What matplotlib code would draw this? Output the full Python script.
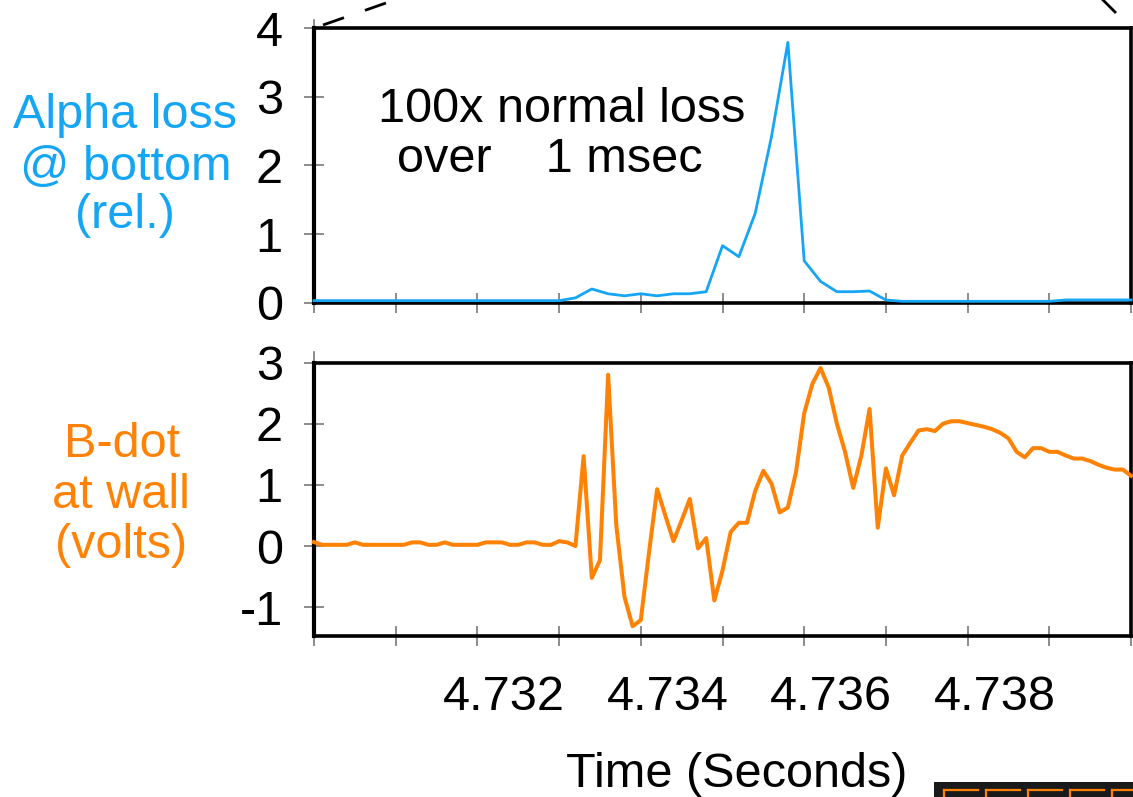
import numpy as np
import matplotlib
matplotlib.use("Agg")
import matplotlib.pyplot as plt
from matplotlib.patches import Rectangle
from matplotlib.lines import Line2D

plt.rcParams['font.family'] = ['Liberation Sans', 'DejaVu Sans']

# ---------------- data ----------------
t_start = 4.72967          # first sample time (s)
dt_bdot = 0.0001           # B-dot sample spacing (s)
dt_alpha = 0.0002          # alpha-loss sample spacing (s)

alpha_loss = [0.03] * 15 + [
    0.03, 0.07, 0.20, 0.13, 0.10, 0.13, 0.10, 0.13, 0.13, 0.16,
    0.83, 0.67, 1.30, 2.42, 3.79, 0.61, 0.31, 0.16, 0.16, 0.17, 0.04,
] + [0.02] * 10 + [0.04] * 5

b_dot = [
    0.065, 0.02, 0.02, 0.02, 0.02, 0.06, 0.02, 0.02, 0.02, 0.02,
    0.02, 0.02, 0.06, 0.06, 0.02, 0.02, 0.06, 0.02, 0.02, 0.02,
    0.02, 0.06, 0.06, 0.06, 0.02, 0.02, 0.06, 0.06, 0.02, 0.02,
    0.08, 0.06, 0.00, 1.47, -0.52, -0.23, 2.80, 0.34, -0.83, -1.31,
    -1.21, -0.11, 0.93, 0.50, 0.08, 0.42, 0.77, -0.04, 0.13, -0.89,
    -0.40, 0.23, 0.38, 0.38, 0.90, 1.23, 1.02, 0.55, 0.63, 1.21,
    2.17, 2.65, 2.91, 2.59, 2.00, 1.54, 0.95, 1.48, 2.24, 0.30,
    1.27, 0.83, 1.48, 1.69, 1.89, 1.91, 1.88, 2.00, 2.04, 2.04,
    2.01, 1.98, 1.95, 1.91, 1.85, 1.76, 1.54, 1.45, 1.60, 1.60,
    1.54, 1.54, 1.48, 1.43, 1.43, 1.39, 1.33, 1.28, 1.25, 1.25,
    1.15,
]

t_alpha = t_start + dt_alpha * np.arange(len(alpha_loss))
t_bdot = t_start + dt_bdot * np.arange(len(b_dot))

x_labels = ["4.732", "4.734", "4.736", "4.738"]
x_label_pos = [4.732, 4.734, 4.736, 4.738]
top_yticks = [0, 1, 2, 3, 4]
bot_yticks = [-1, 0, 1, 2, 3]

# ---------------- style ----------------
W, H = 1133, 797
BLUE = '#14A5F5'
ORANGE = '#FF8204'
TICKC = '#6e6e6e'
FS = 35

fig = plt.figure(figsize=(W / 100, H / 100), dpi=100)
fig.patch.set_facecolor('white')

def fx(px):
    return px / W

def fy(py):
    return 1 - py / H

ax1 = fig.add_axes([fx(314), fy(302.7), fx(1131) - fx(314), fy(28) - fy(302.7)])
ax2 = fig.add_axes([fx(314), fy(636), fx(1131) - fx(314), fy(362.5) - fy(636)])

xmin, xmax = t_start, t_start + 0.010
tick_grid = xmin + 0.001 * np.arange(11)

for ax in (ax1, ax2):
    ax.set_xlim(xmin, xmax)
    for s in ax.spines.values():
        s.set_linewidth(2.6)
        s.set_color('black')
    ax.spines['left'].set_linewidth(3.0)
    ax.set_xticks(tick_grid)
    ax.set_xticklabels([])
    ax.tick_params(axis='both', which='major', direction='inout', length=15,
                   width=1.1, color=TICKC, labelsize=FS, pad=15)
    ax.tick_params(axis='y', labelcolor='black')

ax1.plot(t_alpha, alpha_loss, color=BLUE, lw=2.0, clip_on=False, zorder=3)
ax1.set_ylim(0, 4)
ax1.set_yticks(top_yticks)
ax1.set_yticklabels([str(v) for v in top_yticks])

ax2.plot(t_bdot, b_dot, color=ORANGE, lw=2.9, clip_on=False, zorder=3)
ax2.set_ylim(-1.47, 3)
ax2.set_yticks(bot_yticks)
ax2.set_yticklabels([str(v) for v in bot_yticks])
ax2.set_xticks(x_label_pos, minor=True)
ax2.set_xticklabels(x_labels, minor=True)
ax2.tick_params(axis='x', which='minor', length=0, labelsize=FS, pad=28)

# small spine stubs above top-left corners
ax1.add_line(Line2D([fx(314), fx(314)], [fy(28), fy(20)], transform=fig.transFigure,
                    color=TICKC, lw=1.1, clip_on=False))
ax2.add_line(Line2D([fx(314), fx(314)], [fy(362.5), fy(352)], transform=fig.transFigure,
                    color=TICKC, lw=1.1, clip_on=False))

# ---------------- texts ----------------
def ftext(x, y, s, color='black', ha='center'):
    fig.text(fx(x), fy(y), s, color=color, fontsize=FS, ha=ha, va='baseline')

ftext(125, 128, "Alpha loss", BLUE)
ftext(126, 180, "@ bottom", BLUE)
ftext(125, 228, "(rel.)", BLUE)

ftext(122, 457, "B-dot", ORANGE)
ftext(121, 508, "at wall", ORANGE)
ftext(121, 558, "(volts)", ORANGE)

ftext(562, 122.5, "100x normal loss")
ftext(550, 171.5, "over    1 msec")

ftext(737, 787, "Time (Seconds)")

# callout lines at the top
fig.add_artist(Line2D([fx(323), fx(396)], [fy(25), fy(-0.5)], color='black', lw=2.0,
                      linestyle=(0, (8, 8)), transform=fig.transFigure))
fig.add_artist(Line2D([fx(1103), fx(1115)], [fy(0), fy(12)], color='black', lw=2.0,
                      transform=fig.transFigure))

# logo fragment bottom right
fig.add_artist(Rectangle((fx(934), 0), fx(W) - fx(934), fy(782), facecolor='#1a1a1a',
                         edgecolor='none', transform=fig.transFigure))
for x0 in [944, 986, 1028, 1070, 1112]:
    fig.add_artist(Line2D([fx(x0), fx(x0 + 34)], [fy(790), fy(790)], color=ORANGE, lw=1.6,
                          transform=fig.transFigure))
    fig.add_artist(Line2D([fx(x0), fx(x0)], [fy(790), fy(797)], color=ORANGE, lw=1.6,
                          transform=fig.transFigure))

fig.savefig('out.png', dpi=100, facecolor='white')
